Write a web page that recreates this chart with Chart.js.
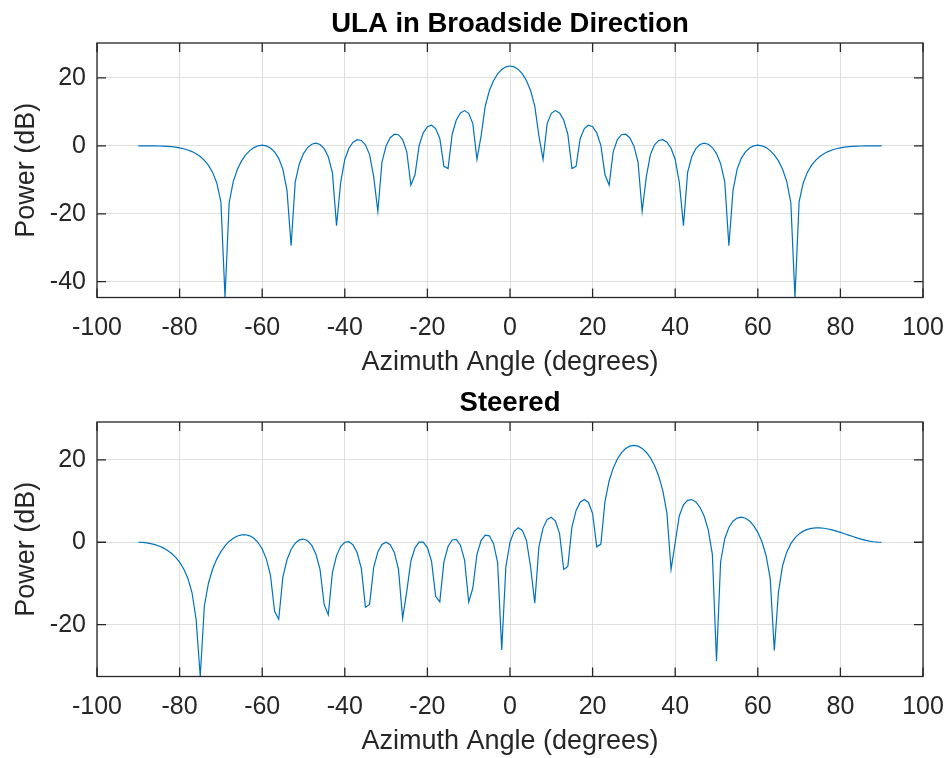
<!DOCTYPE html>
<html>
<head>
<meta charset="utf-8">
<script src="https://cdn.jsdelivr.net/npm/chart.js@4.4.1/dist/chart.umd.min.js"></script>
<style>
  html, body { margin: 0; padding: 0; background: #fff; }
  canvas { display: block; }
</style>
</head>
<body>
<canvas id="broadside" width="945" height="379"></canvas>
<canvas id="steered" width="945" height="379"></canvas>
<script>
// azimuth sample angles (degrees)
const angles = [
  -90, -89, -88, -87, -86, -85, -84, -83, -82, -81, -80, -79, -78, -77, -76, -75, -74, -73, -72, -71,
  -70, -69, -68, -67, -66, -65, -64, -63, -62, -61, -60, -59, -58, -57, -56, -55, -54, -53, -52, -51,
  -50, -49, -48, -47, -46, -45, -44, -43, -42, -41, -40, -39, -38, -37, -36, -35, -34, -33, -32, -31,
  -30, -29, -28, -27, -26, -25, -24, -23, -22, -21, -20, -19, -18, -17, -16, -15, -14, -13, -12, -11,
  -10, -9, -8, -7, -6, -5, -4, -3, -2, -1, 0, 1, 2, 3, 4, 5, 6, 7, 8, 9,
  10, 11, 12, 13, 14, 15, 16, 17, 18, 19, 20, 21, 22, 23, 24, 25, 26, 27, 28, 29,
  30, 31, 32, 33, 34, 35, 36, 37, 38, 39, 40, 41, 42, 43, 44, 45, 46, 47, 48, 49,
  50, 51, 52, 53, 54, 55, 56, 57, 58, 59, 60, 61, 62, 63, 64, 65, 66, 67, 68, 69,
  70, 71, 72, 73, 74, 75, 76, 77, 78, 79, 80, 81, 82, 83, 84, 85, 86, 87, 88, 89, 90
];

// power (dB), broadside
const broadsideDb = [
  0.00, 0.00, 0.00, 0.00, -0.01, -0.04, -0.07, -0.13, -0.23, -0.37,
  -0.57, -0.84, -1.20, -1.68, -2.32, -3.15, -4.26, -5.74, -7.81, -10.93,
  -16.47, -44.66, -16.75, -10.46, -6.87, -4.42, -2.66, -1.39, -0.51, 0.02,
  0.19, 0.00, -0.61, -1.76, -3.67, -6.85, -13.12, -29.43, -10.60, -5.26,
  -2.28, -0.49, 0.49, 0.79, 0.39, -0.82, -3.22, -7.90, -23.49, -10.80,
  -4.01, -0.70, 1.09, 1.82, 1.60, 0.31, -2.57, -9.15, -19.27, -4.77,
  0.00, 2.40, 3.43, 3.29, 1.85, -1.67, -11.54, -8.50, 0.13, 3.85,
  5.64, 6.06, 5.11, 2.17, -6.02, -6.65, 3.43, 7.62, 9.72, 10.39,
  9.60, 6.56, -3.98, 2.94, 11.69, 16.24, 19.20, 21.21, 22.52, 23.28,
  23.52,
  23.28, 22.52, 21.21, 19.20, 16.24, 11.69, 2.94, -3.98, 6.56, 9.60,
  10.39, 9.72, 7.62, 3.43, -6.65, -6.02, 2.17, 5.11, 6.06, 5.64,
  3.85, 0.13, -8.50, -11.54, -1.67, 1.85, 3.29, 3.43, 2.40, 0.00,
  -4.77, -19.27, -9.15, -2.57, 0.31, 1.60, 1.82, 1.09, -0.70, -4.01,
  -10.80, -23.49, -7.90, -3.22, -0.82, 0.39, 0.79, 0.49, -0.49, -2.28,
  -5.26, -10.60, -29.43, -13.12, -6.85, -3.67, -1.76, -0.61, 0.00, 0.19,
  0.02, -0.51, -1.39, -2.66, -4.42, -6.87, -10.46, -16.75, -44.66, -16.47,
  -10.93, -7.81, -5.74, -4.26, -3.15, -2.32, -1.68, -1.20, -0.84, -0.57,
  -0.37, -0.23, -0.13, -0.07, -0.04, -0.01, 0.00, 0.00, 0.00, 0.00
];

// power (dB), steered
const steeredDb = [
  0.00, -0.03, -0.14, -0.31, -0.56, -0.90, -1.35, -1.93, -2.67, -3.61,
  -4.84, -6.47, -8.74, -12.20, -18.75, -32.59, -15.41, -9.88, -6.50, -4.09,
  -2.27, -0.87, 0.20, 0.99, 1.53, 1.81, 1.83, 1.56, 0.96, -0.06,
  -1.62, -4.03, -8.01, -16.74, -18.69, -8.54, -4.25, -1.75, -0.23, 0.58,
  0.78, 0.37, -0.76, -2.85, -6.60, -15.10, -17.61, -7.35, -3.24, -1.05,
  0.00, 0.14, -0.63, -2.54, -6.34, -15.75, -15.09, -6.07, -2.35, -0.55,
  0.00, -0.57, -2.46, -6.58, -18.49, -11.98, -4.54, -1.35, 0.02, 0.05,
  -1.28, -4.60, -13.13, -14.48, -4.75, -1.03, 0.56, 0.67, -0.71, -4.31,
  -14.53, -11.11, -2.91, 0.42, 1.75, 1.57, -0.27, -4.92, -26.12, -5.96,
  0.00, 2.64, 3.51, 2.89, 0.39, -6.13, -14.76, -1.11, 3.44, 5.53,
  6.07, 5.13, 2.10, -6.58, -5.86, 3.68, 7.72, 9.74, 10.39, 9.67,
  6.98, -1.11, -0.44, 9.95, 14.88, 18.05, 20.23, 21.76, 22.76, 23.34,
  23.52, 23.34, 22.79, 21.86, 20.51, 18.65, 16.11, 12.56, 7.00, -6.59,
  -0.06, 6.46, 9.08, 10.19, 10.36, 9.78, 8.49, 6.36, 3.00, -2.93,
  -28.85, -4.73, 0.85, 3.60, 5.11, 5.87, 6.08, 5.83, 5.15, 4.03,
  2.41, 0.12, -3.21, -8.76, -26.28, -12.09, -5.70, -2.41, -0.34, 1.06,
  2.03, 2.70, 3.13, 3.39, 3.50, 3.50, 3.40, 3.23, 3.00, 2.72,
  2.40, 2.07, 1.73, 1.39, 1.06, 0.77, 0.51, 0.29, 0.13, 0.03, 0.00
];

const FONT = "'Liberation Sans', Arial, Helvetica, sans-serif";
const INK = '#262626';

// box around the axes plus inward tick marks on all four sides
const axesBox = {
  id: 'axesBox',
  afterDraw(chart) {
    const { ctx, chartArea: a } = chart;
    const x = chart.scales.x, y = chart.scales.y;
    const len = 9;
    ctx.save();
    ctx.strokeStyle = INK;
    ctx.lineWidth = 1.3;
    ctx.strokeRect(a.left, a.top, a.right - a.left, a.bottom - a.top);
    ctx.beginPath();
    x.ticks.forEach(t => {
      const px = x.getPixelForValue(t.value);
      ctx.moveTo(px, a.bottom); ctx.lineTo(px, a.bottom - len);
      ctx.moveTo(px, a.top); ctx.lineTo(px, a.top + len);
    });
    y.ticks.forEach(t => {
      const py = y.getPixelForValue(t.value);
      ctx.moveTo(a.left, py); ctx.lineTo(a.left + len, py);
      ctx.moveTo(a.right, py); ctx.lineTo(a.right - len, py);
    });
    ctx.stroke();
    ctx.restore();
  }
};

function makeChart(id, titleText, values, yMin, yMax) {
  const ctx = document.getElementById(id).getContext('2d');
  return new Chart(ctx, {
    type: 'line',
    data: {
      datasets: [{
        data: angles.map((a, i) => ({ x: a, y: values[i] })),
        borderColor: '#0072BD',
        borderWidth: 1.2,
        pointRadius: 0,
        fill: false,
        tension: 0
      }]
    },
    options: {
      responsive: false,
      animation: false,
      devicePixelRatio: 1,
      layout: { autoPadding: false, padding: { left: 0, right: 22, top: 0, bottom: 0 } },
      plugins: {
        legend: { display: false },
        tooltip: { enabled: false },
        title: {
          display: true,
          fullSize: false,
          text: titleText,
          color: '#000',
          font: { family: FONT, size: 27.5, weight: 'bold' },
          padding: { top: 7.6, bottom: 2.4 }
        }
      },
      scales: {
        x: {
          type: 'linear',
          min: -100,
          max: 100,
          grid: { color: '#dfdfdf', drawTicks: false },
          border: { display: false },
          ticks: { stepSize: 20, color: INK, padding: 16, maxRotation: 0, autoSkip: false,
                   font: { family: FONT, size: 25 } },
          title: { display: true, text: 'Azimuth Angle (degrees)', color: INK,
                   font: { family: FONT, size: 27 }, padding: { top: 0, bottom: 0 } },
          afterFit(s) { s.height = 81.5; s.paddingLeft = 0; s.paddingRight = 0; }
        },
        y: {
          min: yMin,
          max: yMax,
          grid: { color: '#dfdfdf', drawTicks: false },
          border: { display: false },
          ticks: { stepSize: 20, includeBounds: false, color: INK, padding: 11,
                   font: { family: FONT, size: 25 } },
          title: { display: true, text: 'Power (dB)', color: INK,
                   font: { family: FONT, size: 27 }, padding: { top: 10, bottom: 0 } },
          afterFit(s) { s.width = 97; s.paddingTop = 0; s.paddingBottom = 0; }
        }
      }
    },
    plugins: [axesBox]
  });
}

makeChart('broadside', 'ULA in Broadside Direction', broadsideDb, -44.66, 30.3);
makeChart('steered', 'Steered', steeredDb, -32.59, 29.2);
</script>
</body>
</html>
